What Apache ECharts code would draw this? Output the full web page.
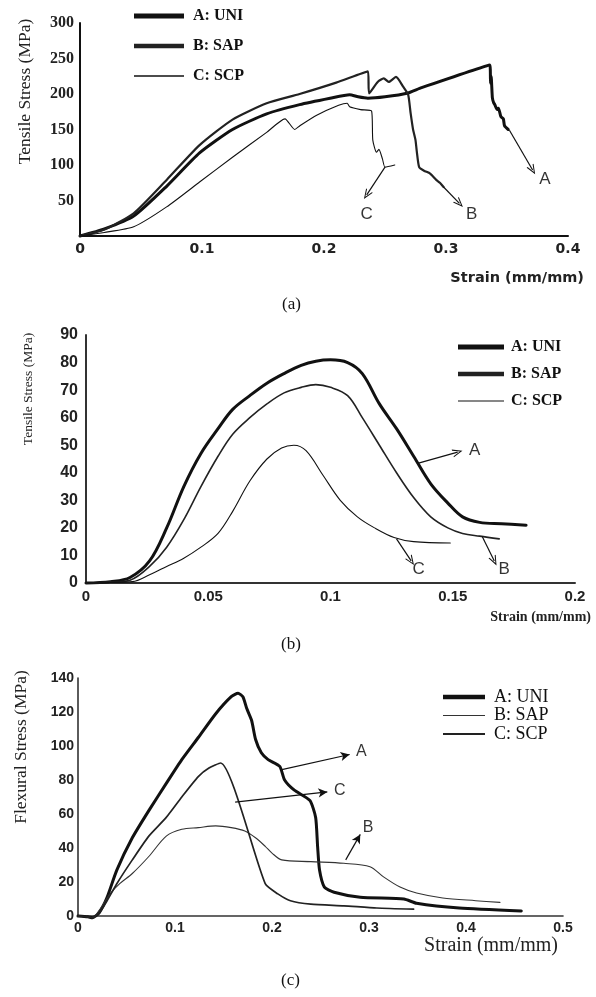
<!DOCTYPE html>
<html><head><meta charset="utf-8">
<script src="https://cdn.jsdelivr.net/npm/echarts@6/dist/echarts.min.js"></script>
<style>html,body{margin:0;padding:0;background:#fff}#c{width:596px;height:997px}</style>
</head><body><div id="c"></div>
<script>
// ---------- Panel (a) tensile ----------
const aUNI = [[0,0],[0.02,10],[0.044,28],[0.071,70],[0.098,117],[0.125,150],[0.153,172],[0.18,185],[0.205,194],[0.221,199],[0.228,196],[0.236,194],[0.25,196],[0.268,201],[0.28,209],[0.336,241],[0.3365,215],[0.337,225],[0.338,195],[0.339,188],[0.340,185],[0.342,178],[0.343,180],[0.345,168],[0.347,165],[0.348,155],[0.351,150]];
const aSAP = [[0,0],[0.02,9],[0.044,32],[0.071,79],[0.098,128],[0.125,164],[0.153,187],[0.18,200],[0.21,216],[0.236,232],[0.237,201],[0.244,217],[0.249,222],[0.253,217],[0.259,224],[0.265,210],[0.269,199],[0.271,173],[0.273,150],[0.275,135],[0.276,120],[0.278,97],[0.282,92],[0.287,88],[0.292,79],[0.295,75],[0.298,69]];
const aSCP = [[0,0],[0.02,5],[0.044,13],[0.071,41],[0.098,76],[0.125,111],[0.153,146],[0.168,165],[0.176,150],[0.180,155],[0.194,170],[0.212,184],[0.219,187],[0.221,182],[0.23,178],[0.239,176],[0.24,135],[0.243,118],[0.245,122],[0.248,108],[0.25,97],[0.258,100]];
const aArrows = [[[0.352,149],[0.371,93]],[[0.298,69],[0.311,46]],[[0.25,97],[0.235,58]]];
const aLabels = [[0.381,80,'A'],[0.321,30,'B'],[0.235,30,'C']];
// ---------- Panel (b) tensile ----------
const bUNI = [[0,0],[0.01,0.5],[0.018,2],[0.026,8],[0.033,20],[0.040,35],[0.047,47],[0.054,56],[0.060,63],[0.067,68],[0.074,72.5],[0.081,76],[0.088,79],[0.094,80.5],[0.100,81],[0.107,80],[0.113,76],[0.120,65],[0.127,56],[0.134,46],[0.141,36],[0.148,29],[0.154,24],[0.161,22],[0.170,21.5],[0.180,21]];
const bSAP = [[0,0],[0.01,0.3],[0.018,1],[0.026,6],[0.033,13],[0.040,23],[0.047,35],[0.054,46],[0.060,54],[0.067,60],[0.074,65],[0.081,69],[0.088,71],[0.094,72],[0.100,71],[0.107,68],[0.113,60],[0.120,50],[0.127,40],[0.134,31],[0.141,24],[0.148,20],[0.154,18],[0.161,17],[0.169,16]];
const bSCP = [[0,0],[0.01,0.2],[0.019,0.5],[0.026,3],[0.033,6],[0.040,9],[0.047,13],[0.054,18],[0.060,26],[0.067,37],[0.074,45],[0.080,49],[0.085,50],[0.090,48],[0.097,39],[0.104,30],[0.111,24],[0.118,20],[0.126,16.5],[0.134,15],[0.149,14.5]];
const bArrows = [[[0.136,43.5],[0.152,47.5]],[[0.127,16],[0.133,8]],[[0.162,17],[0.167,8]]];
const bLabels = [[0.159,48,'A'],[0.136,5,'C'],[0.171,5,'B']];
// ---------- Panel (c) flexural ----------
const cUNI = [[0,0],[0.01,-0.5],[0.015,-1],[0.022,2],[0.03,11],[0.04,27],[0.056,46],[0.073,62],[0.091,78],[0.107,92],[0.124,105],[0.142,119],[0.158,129],[0.165,131],[0.17,129],[0.174,122],[0.179,115],[0.183,104],[0.189,96],[0.196,92],[0.208,88],[0.213,80],[0.223,74],[0.239,68],[0.245,58],[0.247,41],[0.249,27],[0.254,17],[0.264,14],[0.291,11],[0.336,10],[0.349,7.5],[0.393,4.7],[0.457,3]];
const cSAP = [[0,0],[0.01,-0.5],[0.015,-1],[0.022,3.5],[0.033,13],[0.043,19],[0.056,25],[0.073,35],[0.091,47],[0.107,51],[0.124,52],[0.142,53],[0.158,52],[0.172,50],[0.183,46],[0.193,41],[0.2,37],[0.21,33],[0.24,32],[0.274,31],[0.301,29],[0.315,23],[0.332,17],[0.349,13.5],[0.376,10.6],[0.41,9],[0.435,8]];
const cSCP = [[0,0],[0.01,-0.5],[0.015,-1],[0.022,2],[0.03,9],[0.04,19],[0.056,33],[0.073,47],[0.091,58],[0.107,70],[0.124,82],[0.135,87],[0.147,90],[0.193,19],[0.206,13],[0.219,9],[0.24,7],[0.274,6],[0.308,4.7],[0.346,4]];
const cArrows = [[[0.209,86],[0.28,95]],[[0.162,67],[0.257,73]],[[0.276,33],[0.291,48]]];
const cLabels = [[0.292,97,'A'],[0.27,74,'C'],[0.299,52,'B']];

const names = ['A: UNI','B: SAP','C: SCP'];
const xTicksA = {min:0,max:0.4,interval:0.1};
const yTicksA = {min:0,max:300,interval:50};
const xTicksB = {min:0,max:0.2,interval:0.05};
const yTicksB = {min:0,max:90,interval:10};
const xTicksC = {min:0,max:0.5,interval:0.1};
const yTicksC = {min:0,max:140,interval:20};

const SERIF = '"Liberation Serif", "DejaVu Serif", serif';
const SANS = '"Liberation Sans", Arial, sans-serif';
const chart = echarts.init(document.getElementById('c'), null, {renderer:'canvas'});

const openHead = 'path://M5,0 L10,10 L8.6,10 L5,2.6 L1.4,10 L0,10 Z';
function arrowLine(arr, head, size){
  return {silent:true, symbol:['none', head], symbolSize:size, label:{show:false},
    lineStyle:{color:'#111', width:1.2, type:'solid'},
    data: arr.map(a=>[{coord:a[0]},{coord:a[1]}])};
}
function lineSeries(name, data, g, width, color, smooth, extra){
  return Object.assign({name:name, type:'line', xAxisIndex:g, yAxisIndex:g, data:data, showSymbol:false, symbol:'none',
    smooth:smooth, lineStyle:{width:width, color:color, join:'round', cap:'round'}, itemStyle:{color:color}, animation:false, clip:false, z:3}, extra||{});
}
function labelSeries(data, g, size){
  return {type:'scatter', xAxisIndex:g, yAxisIndex:g, data:data, symbolSize:0, silent:true, animation:false,
    label:{show:true, position:'inside', formatter:p=>p.data[2], fontFamily:SANS, fontSize:size, color:'#000', textBorderWidth:0}};
}
function legendIcon(h){ return 'path://M0,0 H48 V'+h+' H0 Z'; }

const axisLine = (w,c)=>({show:true, onZero:false, lineStyle:{color:c||'#111', width:w}});

const option = {
  backgroundColor:'#fff',
  animation:false,
  title:[
    {text:'(a)', left:282, top:296, padding:0, textStyle:{fontFamily:SERIF, fontSize:17, fontWeight:'normal', color:'#111'}},
    {text:'(b)', left:281, top:636, padding:0, textStyle:{fontFamily:SERIF, fontSize:17, fontWeight:'normal', color:'#111'}},
    {text:'(c)', left:281, top:972, padding:0, textStyle:{fontFamily:SERIF, fontSize:17, fontWeight:'normal', color:'#111'}}
  ],
  grid:[
    {left:80, top:23, width:488, height:213},
    {left:86, top:335, width:489, height:248},
    {left:78, top:678, width:485, height:238}
  ],
  legend:[
    {orient:'vertical', left:134, top:8, itemWidth:50, itemHeight:16, itemGap:14, padding:0, selectedMode:false,
      formatter:n=>n.split('#')[0], textStyle:{fontFamily:SERIF, fontSize:16, fontWeight:'bold', color:'#111', padding:[0,0,0,4]},
      data:[{name:'A: UNI#a', icon:legendIcon(5)},{name:'B: SAP#a', icon:legendIcon(4.5)},{name:'C: SCP#a', icon:legendIcon(1.3)}]},
    {orient:'vertical', left:458, top:339, itemWidth:46, itemHeight:16, itemGap:11, padding:0, selectedMode:false,
      formatter:n=>n.split('#')[0], textStyle:{fontFamily:SERIF, fontSize:16, fontWeight:'bold', color:'#111', padding:[0,0,0,2]},
      data:[{name:'A: UNI#b', icon:legendIcon(5)},{name:'B: SAP#b', icon:legendIcon(4.5)},{name:'C: SCP#b', icon:legendIcon(1.3)}]},
    {orient:'vertical', left:443, top:688, itemWidth:42, itemHeight:17, itemGap:0.5, padding:0, selectedMode:false,
      formatter:n=>n.split('#')[0], textStyle:{fontFamily:SERIF, fontSize:18, fontWeight:'normal', color:'#111', padding:[0,0,0,4]},
      data:[{name:'A: UNI#c', icon:legendIcon(5)},{name:'B: SAP#c', icon:legendIcon(1.3)},{name:'C: SCP#c', icon:legendIcon(2.3)}]}
  ],
  xAxis:[
    Object.assign({type:'value', gridIndex:0, axisLine:axisLine(2), axisTick:{show:false}, splitLine:{show:false},
      axisLabel:{fontFamily:'"DejaVu Sans", sans-serif', fontWeight:'bold', fontSize:14, color:'#222', margin:6},
      name:'Strain (mm/mm)', nameLocation:'end', nameGap:16,
      nameTextStyle:{fontFamily:'"DejaVu Sans", sans-serif', fontWeight:'bold', fontSize:14.5, color:'#222', align:'right', verticalAlign:'top', padding:[35,0,0,0]}}, xTicksA),
    Object.assign({type:'value', gridIndex:1, axisLine:axisLine(2,'#333'), axisTick:{show:false}, splitLine:{show:false},
      axisLabel:{fontFamily:SANS, fontWeight:'bold', fontSize:15, color:'#222', margin:6},
      name:'Strain (mm/mm)', nameLocation:'end', nameGap:16,
      nameTextStyle:{fontFamily:SERIF, fontWeight:'bold', fontSize:14, color:'#222', align:'right', verticalAlign:'top', padding:[27,0,0,0]}}, xTicksB),
    Object.assign({type:'value', gridIndex:2, axisLine:axisLine(1.6,'#333'), axisTick:{show:false}, splitLine:{show:false},
      axisLabel:{fontFamily:SANS, fontWeight:'bold', fontSize:14, color:'#222', margin:5},
      name:'Strain (mm/mm)', nameLocation:'end', nameGap:-5,
      nameTextStyle:{fontFamily:SERIF, fontSize:20, color:'#222', align:'right', verticalAlign:'top', padding:[20,0,0,0]}}, xTicksC)
  ],
  yAxis:[
    Object.assign({type:'value', gridIndex:0, axisLine:axisLine(2), axisTick:{show:false}, splitLine:{show:false},
      axisLabel:{fontFamily:SERIF, fontWeight:'bold', fontSize:16, color:'#222', margin:6, formatter:v=>v===0?'':v},
      name:'Tensile Stress (MPa)', nameLocation:'middle', nameGap:46,
      nameTextStyle:{fontFamily:SERIF, fontSize:17.5, color:'#222', padding:[0,0,0,76]}}, yTicksA),
    Object.assign({type:'value', gridIndex:1, axisLine:axisLine(2,'#333'), axisTick:{show:false}, splitLine:{show:false},
      axisLabel:{fontFamily:SANS, fontWeight:'bold', fontSize:16, color:'#222', margin:8},
      name:'Tensile Stress (MPa)', nameLocation:'middle', nameGap:51,
      nameTextStyle:{fontFamily:SERIF, fontSize:13.5, color:'#222', padding:[0,0,0,140]}}, yTicksB),
    Object.assign({type:'value', gridIndex:2, axisLine:axisLine(1.6,'#333'), axisTick:{show:false}, splitLine:{show:false},
      axisLabel:{fontFamily:SANS, fontWeight:'bold', fontSize:14, color:'#222', margin:4},
      name:'Flexural Stress (MPa)', nameLocation:'middle', nameGap:48,
      nameTextStyle:{fontFamily:SERIF, fontSize:17.5, color:'#222', padding:[0,0,0,100]}}, yTicksC)
  ],
  series:[
    lineSeries('A: UNI#a', aUNI, 0, 3, '#111', 0.2, {markLine:arrowLine(aArrows, openHead, [8,10])}),
    lineSeries('B: SAP#a', aSAP, 0, 2.2, '#222', 0.2),
    lineSeries('C: SCP#a', aSCP, 0, 1.1, '#111', 0.2),
    labelSeries(aLabels, 0, 17),
    lineSeries('A: UNI#b', bUNI, 1, 3, '#111', 0.35, {markLine:arrowLine(bArrows, openHead, [8,10])}),
    lineSeries('B: SAP#b', bSAP, 1, 1.6, '#222', 0.35),
    lineSeries('C: SCP#b', bSCP, 1, 1.1, '#111', 0.35),
    labelSeries(bLabels, 1, 17),
    lineSeries('A: UNI#c', cUNI, 2, 3, '#111', 0.2, {markLine:arrowLine(cArrows, 'arrow', [7,9])}),
    lineSeries('B: SAP#c', cSAP, 2, 1.1, '#333', 0.3),
    lineSeries('C: SCP#c', cSCP, 2, 1.7, '#222', 0.2),
    labelSeries(cLabels, 2, 16)
  ]
};
chart.setOption(option);
</script></body></html>
